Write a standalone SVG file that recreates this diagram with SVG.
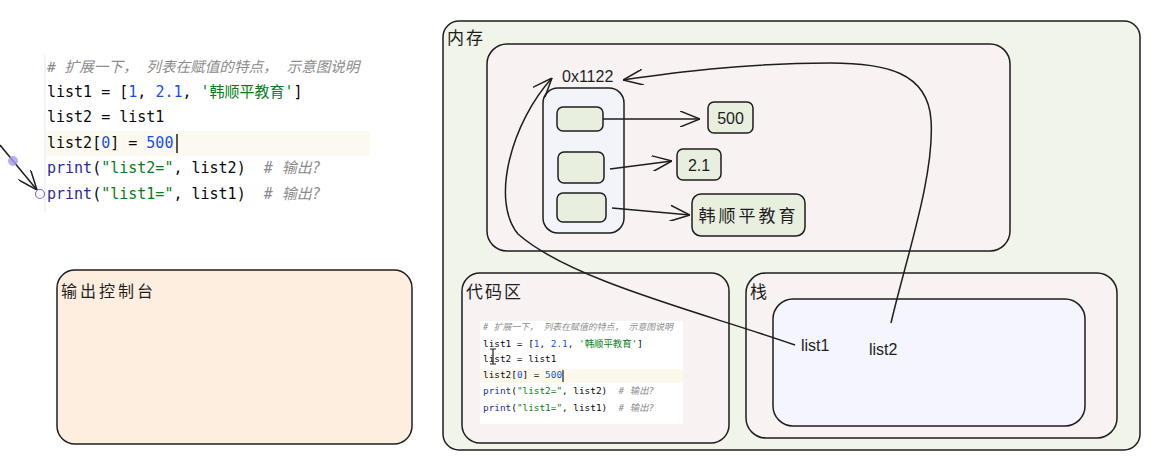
<svg xmlns="http://www.w3.org/2000/svg" width="1158" height="469" viewBox="0 0 1158 469">
<style>
.box{stroke:#1e1e1e;stroke-width:1.5}
.lbl{font-family:"Liberation Sans","Noto Sans CJK SC",sans-serif;fill:#1e1e1e}
.hw{font-family:"Liberation Sans","Noto Sans CJK SC",sans-serif;fill:#1e1e1e;font-size:16px}
.code{font-family:"DejaVu Sans Mono","Noto Sans CJK SC",monospace;fill:#080808}
.cm{fill:#8c8c8c;font-style:italic}
.num{fill:#1750eb}
.str{fill:#067d17}
.fn{fill:#2a2a9c}
.conn{fill:none;stroke:#1e1e1e;stroke-width:1.5}
</style>
<defs>
<marker id="arr" viewBox="0 0 20 16" refX="20" refY="8" markerWidth="20" markerHeight="16" markerUnits="userSpaceOnUse" orient="auto">
<path d="M0,0 L20,8 L0,16" fill="none" stroke="#1e1e1e" stroke-width="1.5"/>
</marker>
</defs>
<rect width="1158" height="469" fill="#ffffff"/>

<g id="code-snippet">
<line x1="45" y1="55" x2="45" y2="212" stroke="#e6e6e6" stroke-width="1"/>
<rect x="46" y="131" width="324" height="25" fill="#fcfaf0"/>
<text class="code" font-size="15" xml:space="preserve"><tspan class="cm" x="47" y="72" font-size="14.6"># 扩展一下， 列表在赋值的特点， 示意图说明</tspan><tspan x="47" y="97">list1 = [<tspan class="num">1</tspan>, <tspan class="num">2.1</tspan>, <tspan class="str">'韩顺平教育'</tspan>]</tspan><tspan x="47" y="122">list2 = list1</tspan><tspan x="47" y="148">list2[<tspan class="num">0</tspan>] = <tspan class="num">500</tspan></tspan><tspan x="47" y="173"><tspan class="fn">print</tspan>(<tspan class="str">"list2="</tspan>, list2)  <tspan class="cm"># 输出?</tspan></tspan><tspan x="47" y="199"><tspan class="fn">print</tspan>(<tspan class="str">"list1="</tspan>, list1)  <tspan class="cm"># 输出?</tspan></tspan></text>
<line x1="177" y1="134" x2="177" y2="153" stroke="#1e1e1e" stroke-width="1.5"/>
</g>

<g id="pointer">
<line x1="0" y1="145" x2="37" y2="190" stroke="#1e1e1e" stroke-width="1.5" marker-end="url(#arr)"/>
<circle cx="13" cy="161" r="5" fill="#a99af0" opacity="0.8"/>
<circle cx="40" cy="194" r="4.5" fill="#ffffff" stroke="#7b6cf0" stroke-width="1.2"/>
</g>

<g id="console">
<rect class="box" x="57" y="270" width="355" height="174" rx="18" fill="#fdeee0"/>
<text class="lbl" x="61" y="297" font-size="16" letter-spacing="3">输出控制台</text>
</g>

<g id="memory">
<rect class="box" x="443" y="21" width="697" height="429" rx="16" fill="#f0f4e9"/>
<text class="lbl" x="447" y="44" font-size="17" letter-spacing="2">内存</text>
</g>

<g id="heap">
<rect class="box" x="487" y="44" width="523" height="207" rx="20" fill="#f8f3f2"/>
</g>

<g id="array">
<rect class="box" x="543" y="88" width="81" height="145" rx="15" fill="#f3f4fa"/>
<text class="hw" x="562" y="82" font-size="17">0x1122</text>
</g>
<g id="cell-0"><rect class="box" x="557" y="107" width="46" height="24" rx="6" fill="#e9efdf"/></g>
<g id="cell-1"><rect class="box" x="558" y="152" width="46" height="31" rx="6" fill="#e9efdf"/></g>
<g id="cell-2"><rect class="box" x="557" y="193" width="49" height="29" rx="6" fill="#e9efdf"/></g>

<g id="val-500"><rect class="box" x="708" y="102" width="45" height="31" rx="6" fill="#e9efdf"/><text class="hw" x="730.5" y="124" text-anchor="middle" font-size="17">500</text></g>
<g id="val-21"><rect class="box" x="677" y="149" width="44" height="31" rx="6" fill="#e9efdf"/><text class="hw" x="699" y="171" text-anchor="middle" font-size="17">2.1</text></g>
<g id="val-str"><rect class="box" x="692" y="194" width="113" height="42" rx="9" fill="#e9efdf"/><text class="lbl" x="748.5" y="222" text-anchor="middle" font-size="17" letter-spacing="3">韩顺平教育</text></g>

<g id="code-area">
<rect class="box" x="462" y="273" width="267" height="170" rx="18" fill="#f8f3f2"/>
<text class="lbl" x="466" y="298" font-size="17" letter-spacing="2">代码区</text>
<rect x="480" y="321" width="203" height="103" fill="#ffffff"/>
<rect x="480" y="369" width="203" height="14" fill="#fcf9ec"/>
<text class="code" font-size="9.4" xml:space="preserve"><tspan class="cm" x="483" y="330" font-size="8.9"># 扩展一下， 列表在赋值的特点， 示意图说明</tspan><tspan x="483" y="347">list1 = [<tspan class="num">1</tspan>, <tspan class="num">2.1</tspan>, <tspan class="str">'韩顺平教育'</tspan>]</tspan><tspan x="483" y="362">list2 = list1</tspan><tspan x="483" y="378">list2[<tspan class="num">0</tspan>] = <tspan class="num">500</tspan></tspan><tspan x="483" y="394"><tspan class="fn">print</tspan>(<tspan class="str">"list2="</tspan>, list2)  <tspan class="cm"># 输出?</tspan></tspan><tspan x="483" y="411"><tspan class="fn">print</tspan>(<tspan class="str">"list1="</tspan>, list1)  <tspan class="cm"># 输出?</tspan></tspan></text>
<line x1="563" y1="370" x2="563" y2="382" stroke="#1e1e1e" stroke-width="1.2"/>
<path d="M490,349 H496 M493,349 V364 M490,364 H496" fill="none" stroke="#1e1e1e" stroke-width="1.2"/>
</g>

<g id="stack">
<rect class="box" x="746" y="273" width="371" height="165" rx="20" fill="#f8f3f2"/>
<text class="lbl" x="750" y="298" font-size="17">栈</text>
<rect class="box" x="773" y="299" width="312" height="127" rx="20" fill="#f5f6fd"/>
</g>
<g id="list1"><text class="hw" x="801" y="351" font-size="17">list1</text></g>
<g id="list2"><text class="hw" x="869" y="355" font-size="17">list2</text></g>

<g id="connectors">
<path class="conn" d="M603,119 L700,119" marker-end="url(#arr)"/>
<path class="conn" d="M610,169 L672,161" marker-end="url(#arr)"/>
<path class="conn" d="M612,208 L690,215" marker-end="url(#arr)"/>
<path class="conn" d="M891,323 C905,262 935,175 931,120 C928,72 885,63 830,63 C740,63 665,74 623,80" marker-end="url(#arr)"/>
<path class="conn" d="M795,345 C700,312 570,280 518,234 C490,200 512,122 552,78" marker-end="url(#arr)"/>
</g>
</svg>
